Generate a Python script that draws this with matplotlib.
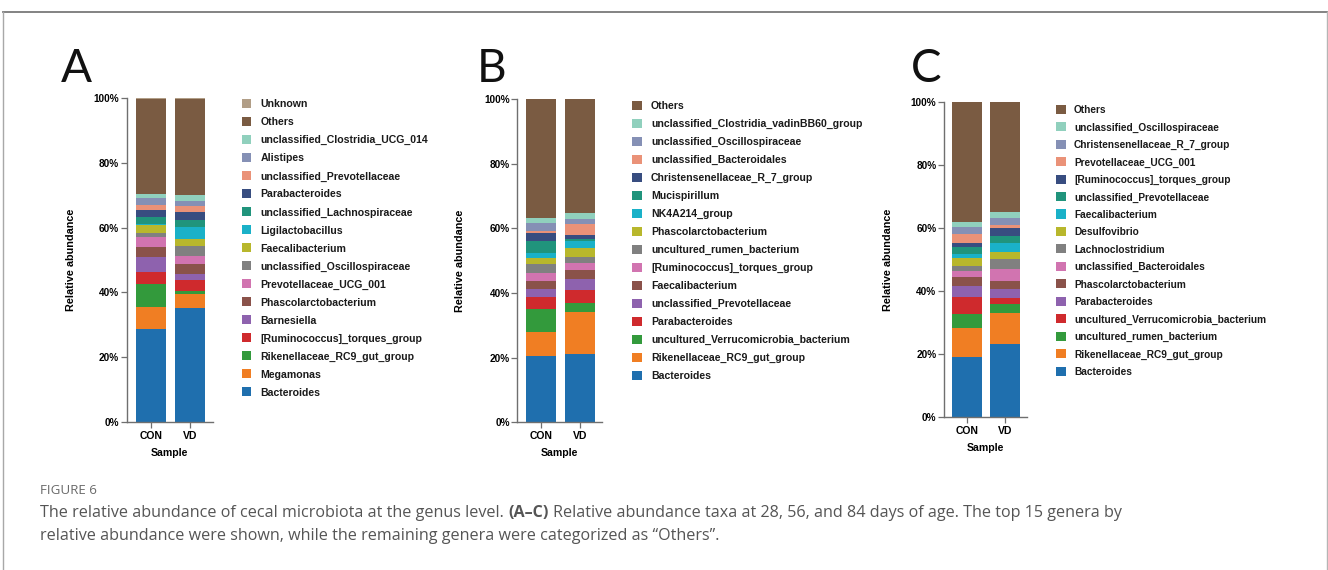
import matplotlib
matplotlib.use("Agg")
import matplotlib.pyplot as plt
from matplotlib.patches import Rectangle
from matplotlib.lines import Line2D

W, H = 1328, 570
samples = ["CON", "VD"]

# ---------------- Panel A (28 d) ----------------
taxa_A = ["Bacteroides", "Megamonas", "Rikenellaceae_RC9_gut_group",
          "[Ruminococcus]_torques_group", "Barnesiella", "Phascolarctobacterium",
          "Prevotellaceae_UCG_001", "unclassified_Oscillospiraceae",
          "Faecalibacterium", "Ligilactobacillus", "unclassified_Lachnospiraceae",
          "Parabacteroides", "unclassified_Prevotellaceae", "Alistipes",
          "unclassified_Clostridia_UCG_014", "Others", "Unknown"]
con_A = [28.7, 6.7, 7.2, 3.7, 4.7, 2.9, 3.3, 1.2, 2.4, 0.3, 2.3, 2.0, 1.6, 2.1, 1.4, 29.3, 0.2]
vd_A = [35.1, 4.4, 0.8, 3.5, 2.0, 2.9, 2.5, 3.1, 2.2, 3.7, 2.3, 2.2, 1.9, 1.6, 1.9, 29.7, 0.2]

# ---------------- Panel B (56 d) ----------------
taxa_B = ["Bacteroides", "Rikenellaceae_RC9_gut_group",
          "uncultured_Verrucomicrobia_bacterium", "Parabacteroides",
          "unclassified_Prevotellaceae", "Faecalibacterium",
          "[Ruminococcus]_torques_group", "uncultured_rumen_bacterium",
          "Phascolarctobacterium", "NK4A214_group", "Mucispirillum",
          "Christensenellaceae_R_7_group", "unclassified_Bacteroidales",
          "unclassified_Oscillospiraceae", "unclassified_Clostridia_vadinBB60_group",
          "Others"]
con_B = [20.6, 7.5, 7.1, 3.6, 2.5, 2.5, 2.5, 2.6, 1.9, 1.7, 3.7, 2.4, 0.7, 2.4, 1.7, 36.6]
vd_B = [21.1, 13.2, 2.7, 3.9, 3.6, 2.6, 2.1, 2.0, 2.7, 2.2, 0.5, 1.5, 3.2, 1.6, 1.8, 35.3]

# ---------------- Panel C (84 d) ----------------
taxa_C = ["Bacteroides", "Rikenellaceae_RC9_gut_group", "uncultured_rumen_bacterium",
          "uncultured_Verrucomicrobia_bacterium", "Parabacteroides",
          "Phascolarctobacterium", "unclassified_Bacteroidales", "Lachnoclostridium",
          "Desulfovibrio", "Faecalibacterium", "unclassified_Prevotellaceae",
          "[Ruminococcus]_torques_group", "Prevotellaceae_UCG_001",
          "Christensenellaceae_R_7_group", "unclassified_Oscillospiraceae", "Others"]
con_C = [19.2, 9.1, 4.6, 5.3, 3.4, 3.0, 1.9, 1.6, 2.4, 1.4, 2.2, 1.1, 3.0, 2.2, 1.6, 38.0]
vd_C = [23.2, 9.9, 2.9, 1.9, 2.9, 2.6, 3.6, 3.4, 2.1, 2.9, 2.0, 2.8, 1.0, 2.2, 1.8, 34.8]

y_ticks = [0, 20, 40, 60, 80, 100]
y_ticklabels = ["0%", "20%", "40%", "60%", "80%", "100%"]

palette = ["#1f6fae", "#f07e23", "#339a3c", "#cf2a2d", "#8e62ae", "#8a524a",
           "#d174b0", "#808080", "#b8b72c", "#1ab1c8", "#20947c", "#384d80",
           "#ea9278", "#8590b5", "#90d0bd"]
others_color = "#7a5b42"
unknown_color = "#b19e87"


def colors_for(taxa):
    out = []
    for i, t in enumerate(taxa):
        if t == "Others":
            out.append(others_color)
        elif t == "Unknown":
            out.append(unknown_color)
        else:
            out.append(palette[i])
    return out


plt.rcParams["font.family"] = ["Liberation Sans", "DejaVu Sans"]
fig = plt.figure(figsize=(W / 100, H / 100), dpi=100)


def fx(px):
    return px / W


def fy(py):
    return 1 - py / H


panels = [
    dict(label="A", taxa=taxa_A, con=con_A, vd=vd_A, x0=126.7, x1=212.9, ytop=98.3, ybot=421.7,
         xlim=(-0.628, 1.6), ylab_x=71, xlab_y=453, letter=(61, 81.5),
         leg_sq=241.5, leg_tx=260.5, leg_y0=103.3, leg_dy=18.03, leg_fs=7.6),
    dict(label="B", taxa=taxa_B, con=con_B, vd=vd_B, x0=517.3, x1=601.6, ytop=99.3, ybot=422.3,
         xlim=(-0.617, 1.55), ylab_x=460, xlab_y=453.3, letter=(477, 81.5),
         leg_sq=632.3, leg_tx=651, leg_y0=105.3, leg_dy=17.98, leg_fs=7.6),
    dict(label="C", taxa=taxa_C, con=con_C, vd=vd_C, x0=944, x1=1027.5, ytop=102.3, ybot=417.3,
         xlim=(-0.608, 1.6), ylab_x=888.3, xlab_y=447.7, letter=(911, 81.5),
         leg_sq=1056, leg_tx=1074, leg_y0=109.3, leg_dy=17.45, leg_fs=7.3),
]

axis_col = "#6f6f6f"
for p in panels:
    ax = fig.add_axes([fx(p["x0"]), fy(p["ybot"]), fx(p["x1"] - p["x0"]),
                       (p["ybot"] - p["ytop"]) / H])
    cols = colors_for(p["taxa"])
    bottoms = [0.0, 0.0]
    for t, c, a, b in zip(p["taxa"], cols, p["con"], p["vd"]):
        ax.bar([0, 1], [a, b], bottom=bottoms, width=0.78, color=c,
               edgecolor="none", linewidth=0)
        bottoms = [bottoms[0] + a, bottoms[1] + b]
    ax.set_xlim(*p["xlim"])
    ax.set_ylim(0, 100)
    ax.set_yticks(y_ticks)
    ax.set_yticklabels(y_ticklabels, fontsize=7.2, fontweight="bold")
    ax.set_xticks([0, 1])
    ax.set_xticklabels(samples, fontsize=7.5, fontweight="bold")
    for s in ["top", "right"]:
        ax.spines[s].set_visible(False)
    for s in ["left", "bottom"]:
        ax.spines[s].set_color(axis_col)
        ax.spines[s].set_linewidth(1.0)
    ax.tick_params(axis="y", length=4, width=0.9, color=axis_col, pad=1.5)
    ax.tick_params(axis="x", length=4, width=0.9, color=axis_col, pad=2.5)
    ax.set_xlabel("Sample", fontsize=7.6, fontweight="bold")
    ax.xaxis.label.set_verticalalignment("center")
    ax.xaxis.set_label_coords(fx(0.5 * (p["x0"] + p["x1"])), fy(p["xlab_y"]),
                              transform=fig.transFigure)
    ax.set_ylabel("Relative abundance", fontsize=7.8, fontweight="bold")
    ax.yaxis.set_label_coords(fx(p["ylab_x"]), 0.5 * (fy(p["ytop"]) + fy(p["ybot"])),
                              transform=fig.transFigure)
    ax.yaxis.label.set_verticalalignment("center")

    # legend (top item = last stacked)
    n = len(p["taxa"])
    for k in range(n):
        idx = n - 1 - k
        yc = p["leg_y0"] + k * p["leg_dy"]
        fig.patches.append(Rectangle((fx(p["leg_sq"]), fy(yc + 4.5)), fx(9.5), 9 / H,
                                     transform=fig.transFigure, facecolor=cols[idx],
                                     edgecolor="none"))
        fig.text(fx(p["leg_tx"]), fy(yc), p["taxa"][idx], fontsize=p["leg_fs"],
                 fontweight="bold", color="#1a1a1a", ha="left", va="center_baseline")

    fig.text(fx(p["letter"][0]), fy(p["letter"][1]), p["label"], fontsize=33,
             family=["Lato", "Liberation Sans"], fontweight="normal", color="#111111",
             ha="left", va="baseline")

# frame
fig.add_artist(Line2D([fx(3), fx(1327)], [fy(12), fy(12)], color="#7a7a7a", lw=1.3,
                      transform=fig.transFigure))
fig.add_artist(Line2D([fx(3), fx(3)], [fy(12), 0], color="#a8a8a8", lw=1.0,
                      transform=fig.transFigure))
fig.add_artist(Line2D([fx(1326.5), fx(1326.5)], [fy(12), 0], color="#b5b5b5", lw=1.0,
                      transform=fig.transFigure))

# caption
cap_family = ["Open Sans", "DejaVu Sans"]
fig.text(fx(40), fy(490), "FIGURE 6", fontsize=9.6, family=cap_family, color="#6a6a6a",
         ha="left", va="center")

line1 = [("The relative abundance of cecal microbiota at the genus level.", "normal", False),
         ("(A\u2013C)", "bold", True),
         ("Relative abundance taxa at 28, 56, and 84 days of age. The top 15 genera by", "normal", True)]
line2 = [("relative abundance were shown, while the remaining genera were categorized as \u201cOthers\u201d.",
          "normal", False)]

renderer = fig.canvas.get_renderer()


def draw_line(parts, x_start, y, fs, draw=True):
    x = x_start
    arts = []
    sp = fig.text(0, 0, "a a", fontsize=fs, family=cap_family)
    sp2 = fig.text(0, 0, "aa", fontsize=fs, family=cap_family)
    space_w = sp.get_window_extent(renderer).width - sp2.get_window_extent(renderer).width
    sp.remove()
    sp2.remove()
    for txt, wt, lead in parts:
        if lead:
            x += space_w
        t = fig.text(fx(x), fy(y), txt, fontsize=fs, family=cap_family, fontweight=wt,
                     color="#555555", ha="left", va="center")
        bb = t.get_window_extent(renderer)
        x = bb.x1
        arts.append(t)
    if not draw:
        for a in arts:
            a.remove()
    return x - x_start


fs = 11.5
w = draw_line(line1, 40, 513, fs, draw=False)
fs = fs * 1078.0 / w
draw_line(line1, 40, 513, fs)
draw_line(line2, 40, 536, fs)

fig.savefig("out.png", dpi=100)
